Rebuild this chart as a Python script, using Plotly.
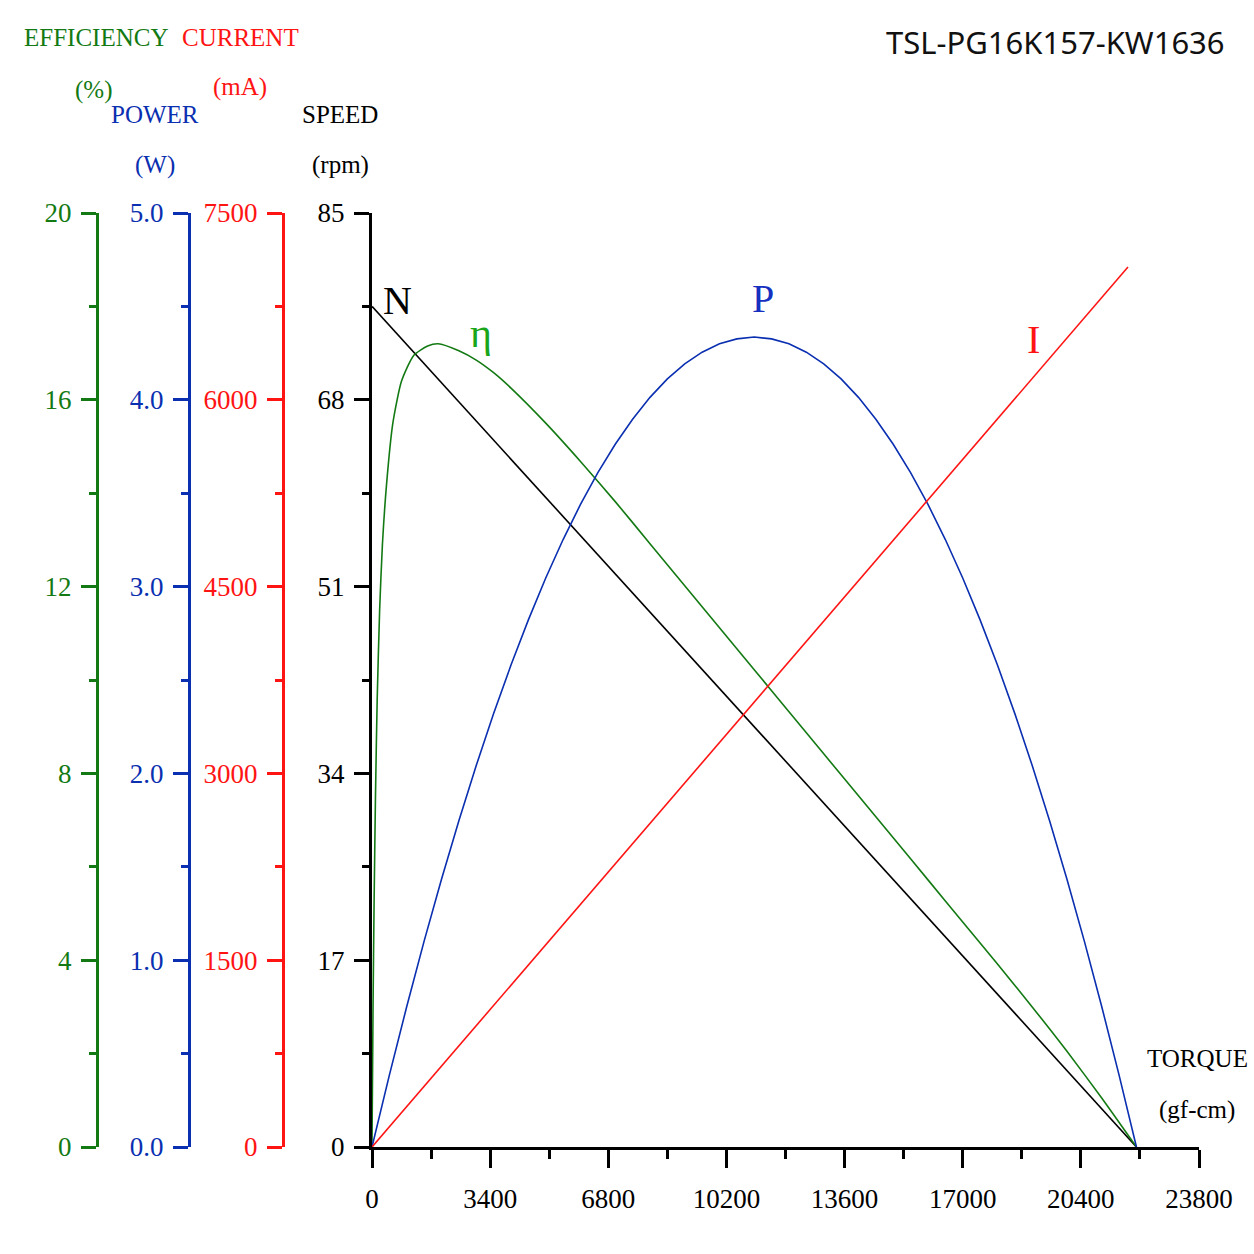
import plotly.graph_objects as go

# ---------------- data ----------------
speed_torque = [0, 22000]
speed_rpm = [76.5, 0]

current_torque = [0, 21756]
current_ma = [0, 7066]

power_torque = [0, 500, 1000, 1500, 2000, 2500, 3000, 3500, 4000, 4500, 5000,
                5500, 6000, 6500, 7000, 7500, 8000, 8500, 9000, 9500, 10000,
                10500, 11000, 11500, 12000, 12500, 13000, 13500, 14000, 14500,
                15000, 15500, 16000, 16500, 17000, 17500, 18000, 18500, 19000,
                19500, 20000, 20500, 21000, 21500, 22000]
power_w = [0, 0.385, 0.752, 1.102, 1.433, 1.747, 2.042, 2.320, 2.580, 2.822, 3.046,
           3.252, 3.440, 3.610, 3.762, 3.896, 4.013, 4.112, 4.192, 4.255, 4.300,
           4.326, 4.336, 4.326, 4.300, 4.255, 4.192, 4.112, 4.013, 3.896,
           3.762, 3.610, 3.440, 3.252, 3.046, 2.822, 2.580, 2.320, 2.042,
           1.747, 1.433, 1.102, 0.752, 0.385, 0]

eff_torque = [0, 30, 60, 100, 150, 220, 300, 420, 600, 850, 1200, 1600, 1900,
              2500, 3000, 3500, 4000, 5000, 6000, 7000, 8000, 9000, 10000,
              11000, 12000, 13000, 14000, 15000, 16000, 17000, 18000, 19000,
              20000, 21000, 22000]
eff_pct = [0, 3.0, 5.2, 7.5, 9.6, 11.5, 12.9, 14.2, 15.5, 16.4, 16.95, 17.15, 17.2,
           17.05, 16.85, 16.58, 16.25, 15.5, 14.68, 13.82, 12.92, 12.02, 11.12,
           10.22, 9.32, 8.42, 7.52, 6.62, 5.72, 4.82, 3.92, 3.0,
           2.05, 1.05, 0]

torque_ticks = [0, 3400, 6800, 10200, 13600, 17000, 20400, 23800]
torque_labels = ["0", "3400", "6800", "10200", "13600", "17000", "20400", "23800"]
speed_ticks = [0, 17, 34, 51, 68, 85]
eff_ticks = [0, 4, 8, 12, 16, 20]
power_ticks = [0, 1, 2, 3, 4, 5]
current_ticks = [0, 1500, 3000, 4500, 6000, 7500]

title_text = "TSL-PG16K157-KW1636"

# ---------------- styling ----------------
W = H = 1254
SERIF = "Liberation Serif"
GREEN = "#137a13"
BLUE = "#0a2fb0"
RED = "#ff1414"
BLACK = "#000000"


def px(x):
    return x / W


def py(y):
    return 1 - y / H


fig = go.Figure()
fig.add_trace(go.Scatter(x=speed_torque, y=speed_rpm, mode="lines",
                         line=dict(color=BLACK, width=1.6), yaxis="y", showlegend=False))
fig.add_trace(go.Scatter(x=eff_torque, y=eff_pct, mode="lines",
                         line=dict(color=GREEN, width=1.6, shape="spline", smoothing=0.6,
                                   simplify=False),
                         yaxis="y2", showlegend=False))
fig.add_trace(go.Scatter(x=power_torque, y=power_w, mode="lines",
                         line=dict(color=BLUE, width=1.6, shape="linear", simplify=False),
                         yaxis="y3", showlegend=False))
fig.add_trace(go.Scatter(x=current_torque, y=current_ma, mode="lines",
                         line=dict(color=RED, width=1.6), yaxis="y4", showlegend=False))

tickfont_size = 27
ydom = [py(1147), py(213)]


def side_axis(color, rng, ticks, minor_dtick, pos, fmt=None):
    d = dict(range=rng, tickvals=ticks, overlaying="y", anchor="free",
             position=pos, side="left", showgrid=False, zeroline=False,
             showline=True, linecolor=color, linewidth=3,
             ticks="outside", ticklen=15, tickwidth=3, tickcolor=color,
             minor=dict(dtick=minor_dtick, ticks="outside", ticklen=7,
                        tickwidth=3, tickcolor=color, showgrid=False),
             tickfont=dict(family=SERIF, size=tickfont_size, color=color),
             ticklabelstandoff=4, automargin=False)
    if fmt:
        d["tickformat"] = fmt
    return d


fig.update_layout(
    width=W, height=H,
    margin=dict(l=0, r=0, t=0, b=0, autoexpand=False),
    paper_bgcolor="white", plot_bgcolor="white",
    xaxis=dict(domain=[px(372), px(1199)], range=[0, 23800], tickvals=torque_ticks,
               ticktext=torque_labels,
               showgrid=False, zeroline=False, showline=True, linecolor=BLACK,
               linewidth=3, ticks="outside", ticklen=18, tickwidth=3, tickcolor=BLACK,
               minor=dict(dtick=1700, ticks="outside", ticklen=9, tickwidth=3,
                          tickcolor=BLACK, showgrid=False),
               tickfont=dict(family=SERIF, size=tickfont_size, color=BLACK),
               ticklabelstandoff=8, anchor="y", automargin=False),
    yaxis=dict(domain=ydom, range=[0, 85], tickvals=speed_ticks,
               showgrid=False, zeroline=False, showline=True, linecolor=BLACK,
               linewidth=3, ticks="outside", ticklen=15, tickwidth=3, tickcolor=BLACK,
               minor=dict(dtick=8.5, ticks="outside", ticklen=7, tickwidth=3,
                          tickcolor=BLACK, showgrid=False),
               tickfont=dict(family=SERIF, size=tickfont_size, color=BLACK),
               ticklabelstandoff=4, anchor="x", automargin=False),
    yaxis2=side_axis(GREEN, [0, 20], eff_ticks, 2, px(97)),
    yaxis3=side_axis(BLUE, [0, 5], power_ticks, 0.5, px(189), ".1f"),
    yaxis4=side_axis(RED, [0, 7500], current_ticks, 750, px(283)),
    showlegend=False,
)

header_size = 25


def label(text, x, y, color, size=header_size, family=SERIF, xanchor="center"):
    fig.add_annotation(text=text, x=px(x), y=py(y), xref="paper", yref="paper",
                       showarrow=False, xanchor=xanchor, yanchor="middle",
                       font=dict(family=family, size=size, color=color))


label("EFFICIENCY", 96, 38, GREEN)
label("(%)", 93, 90, GREEN)
label("CURRENT", 240, 38, RED)
label("(mA)", 240, 87, RED)
label("POWER", 155, 115, BLUE)
label("(W)", 155, 165, BLUE)
label("SPEED", 340, 115, BLACK)
label("(rpm)", 340, 165, BLACK)
label("TORQUE", 1197, 1058, BLACK)
label("(gf-cm)", 1197, 1110, BLACK)

label(title_text, 1227, 42, "#111111", size=31, family="Noto Sans", xanchor="right")

label("N", 398, 300, BLACK, size=40)
label("η", 481, 333, "#1aa51a", size=42)
label("P", 763, 298, "#1530c0", size=40)
label("I", 1033, 340, RED, size=40)

fig.write_html("out.html")
